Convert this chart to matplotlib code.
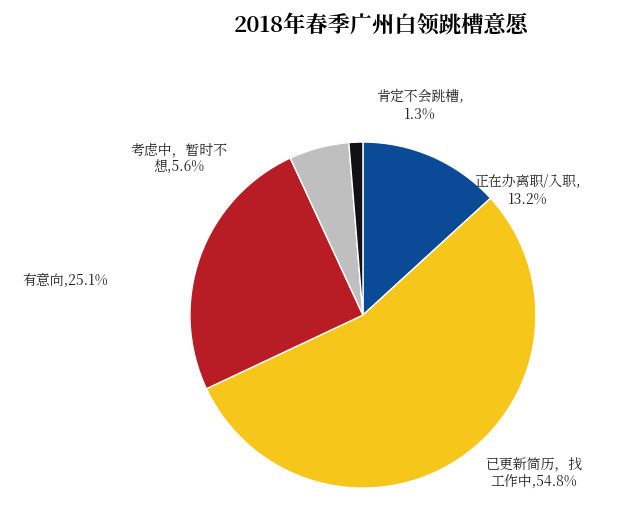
import matplotlib.pyplot as plt
from matplotlib import font_manager

# pick up an installed CJK font file
cjk = [f for f in font_manager.findSystemFonts() if 'CJK' in f or 'cjk' in f.lower()]
if cjk:
    font_manager.fontManager.addfont(cjk[0])
    name = font_manager.FontProperties(fname=cjk[0]).get_name()
else:
    name = 'Noto Sans CJK SC'
plt.rcParams['font.family'] = 'sans-serif'
plt.rcParams['font.sans-serif'] = [name, 'Noto Sans CJK SC', 'Noto Sans CJK JP', 'DejaVu Sans']

labels = ['正在办离职/入职,\n13.2%', '已更新简历，找\n工作中,54.8%', '有意向,25.1%',
          '考虑中，暂时不\n想,5.6%', '肯定不会跳槽,\n1.3%']
values = [13.2, 54.8, 25.1, 5.6, 1.3]
colors = ['#0a4a97', '#f6c71a', '#b81c25', '#bfbfbf', '#111111']
# label anchor offsets in pie radius units
label_pos = [(0.95, 0.72), (0.99, -0.92), (-1.72, 0.2), (-1.06, 0.9), (0.33, 1.21)]

fig = plt.figure(figsize=(6.24, 5.18), dpi=100)
ax = fig.add_axes([0, 0, 1, 1])
ax.pie(values, colors=colors, startangle=90, counterclock=False,
       wedgeprops=dict(edgecolor='white', linewidth=1))
ax.set_aspect('auto')
ax.set_xlim(-2.098, 1.509)
ax.set_ylim(-1.173, 1.821)
ax.axis('off')

for lab, (x, y) in zip(labels, label_pos):
    ax.text(x, y, lab, ha='center', va='center', fontsize=10, color='#222222',
            linespacing=1.1)

fig.text(0.61, 0.95, '2018年春季广州白领跳槽意愿', ha='center', va='center',
         fontsize=16, fontweight='bold')

fig.savefig('out.png', dpi=100, facecolor='white')
